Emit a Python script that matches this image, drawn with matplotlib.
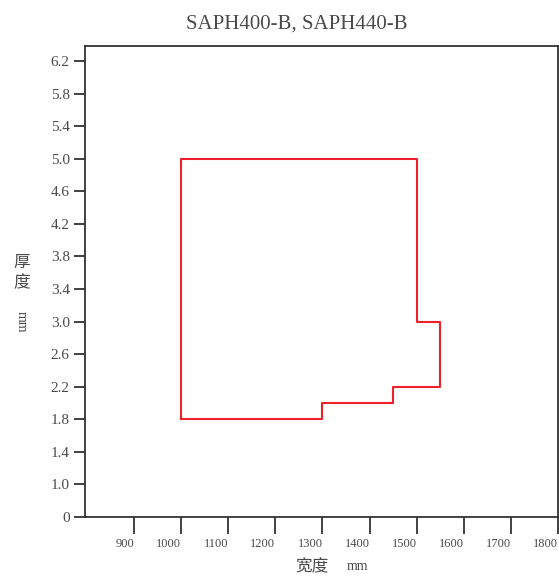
import matplotlib
matplotlib.use("Agg")
import matplotlib.pyplot as plt

# outline of the size range (width mm, thickness mm)
width_mm = [1000, 1000, 1500, 1500, 1550, 1550, 1450, 1450, 1300, 1300, 1000]
thick_mm = [1.8, 5.0, 5.0, 3.0, 3.0, 2.2, 2.2, 2.0, 2.0, 1.8, 1.8]

x_ticks = [900, 1000, 1100, 1200, 1300, 1400, 1500, 1600, 1700, 1800]
y_ticks = [0.6, 1.0, 1.4, 1.8, 2.2, 2.6, 3.0, 3.4, 3.8, 4.2, 4.6, 5.0, 5.4, 5.8, 6.2]
y_labels = ["0", "1.0", "1.4", "1.8", "2.2", "2.6", "3.0", "3.4", "3.8", "4.2",
            "4.6", "5.0", "5.4", "5.8", "6.2"]

W, H = 559, 577
TXT = "#4a4a4a"
LAT = ["Liberation Serif", "DejaVu Serif"]
CJK = ["Noto Sans CJK SC", "DejaVu Sans"]

fig = plt.figure(figsize=(W / 100, H / 100), dpi=100)
ax = fig.add_axes([85 / W, 1 - 517 / H, (558 - 85) / W, (517 - 46) / H])

ax.plot(width_mm, thick_mm, color="#f0202a", lw=1.5)

ax.set_xlim(796, 1800)
ax.set_ylim(0.6, 6.385)
ax.set_xticks(x_ticks)
ax.set_xticklabels([str(v) for v in x_ticks], ha="right", family=LAT, fontsize=9, color=TXT)
ax.set_yticks(y_ticks)
ax.set_yticklabels(y_labels, family=LAT, fontsize=11, color=TXT)
ax.tick_params(axis="x", length=12, width=1.3, color="#333333", pad=3)
ax.tick_params(axis="y", length=8, width=1.3, color="#333333", pad=3)
for s in ax.spines.values():
    s.set_color("#333333"); s.set_linewidth(1.3)

fig.text(297 / W, 1 - 24 / H, "SAPH400-B, SAPH440-B", ha="center", va="center",
         family=LAT, fontsize=15, color=TXT)
fig.text(22 / W, 1 - 262 / H, "厚", ha="center", va="center", family=CJK, fontsize=12, color=TXT)
fig.text(22 / W, 1 - 283 / H, "度", ha="center", va="center", family=CJK, fontsize=12, color=TXT)
fig.text(21 / W, 1 - 322 / H, "mm", ha="center", va="center", rotation=-90,
         family=LAT, fontsize=10, color=TXT)
fig.text(312 / W, 1 - 567 / H, "宽度", ha="center", va="center", family=CJK, fontsize=12, color=TXT)
fig.text(357 / W, 1 - 567 / H, "mm", ha="center", va="center", family=LAT, fontsize=10, color=TXT)

fig.savefig("out.png", dpi=100)
